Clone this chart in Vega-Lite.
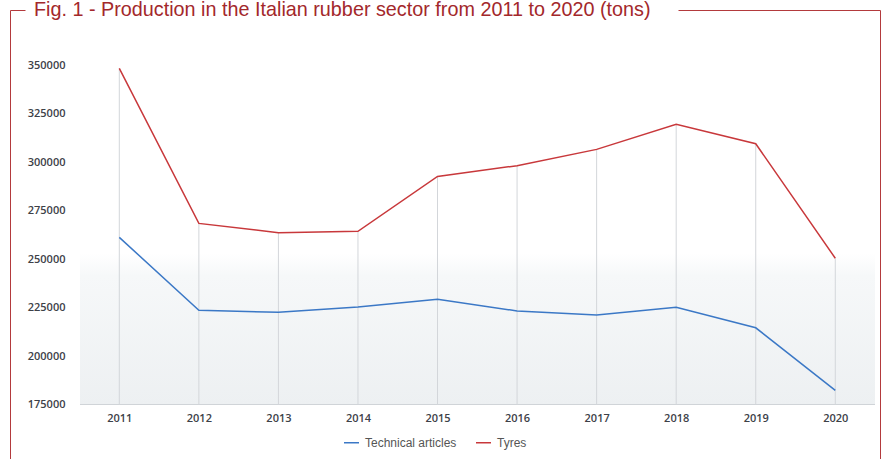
{
  "$schema": "https://vega.github.io/schema/vega-lite/v6.json",
  "width": 870,
  "height": 449,
  "autosize": {"type": "none"},
  "padding": {"left": 10, "top": 10, "right": 2, "bottom": 0},
  "background": "white",
  "title": {
    "text": "Fig. 1 - Production in the Italian rubber sector from 2011 to 2020 (tons)",
    "anchor": "start",
    "frame": "group",
    "orient": "top",
    "offset": 0,
    "baseline": "alphabetic",
    "dx": 24,
    "dy": 25.5,
    "font": "Liberation Sans",
    "fontSize": 19.8,
    "fontWeight": "normal",
    "color": "#a3282b"
  },
  "config": {
    "view": {"stroke": "#b33a3d", "strokeWidth": 1, "strokeDash": [15, 653, 651, 870, 449, 0]},
    "axis": {
      "labelFont": "Open Sans",
      "labelFontWeight": 600,
      "labelFontSize": 11,
      "labelColor": "#3d4148",
      "domain": false,
      "ticks": false,
      "tickSize": 0,
      "grid": false,
      "title": null
    }
  },
  "data": {
    "values": [
      {"year": 2011, "series": "Technical articles", "value": 261300},
      {"year": 2012, "series": "Technical articles", "value": 223600},
      {"year": 2013, "series": "Technical articles", "value": 222600},
      {"year": 2014, "series": "Technical articles", "value": 225300},
      {"year": 2015, "series": "Technical articles", "value": 229300},
      {"year": 2016, "series": "Technical articles", "value": 223300},
      {"year": 2017, "series": "Technical articles", "value": 221200},
      {"year": 2018, "series": "Technical articles", "value": 225200},
      {"year": 2019, "series": "Technical articles", "value": 214600},
      {"year": 2020, "series": "Technical articles", "value": 182300},
      {"year": 2011, "series": "Tyres", "value": 348500},
      {"year": 2012, "series": "Tyres", "value": 268500},
      {"year": 2013, "series": "Tyres", "value": 263700},
      {"year": 2014, "series": "Tyres", "value": 264400},
      {"year": 2015, "series": "Tyres", "value": 292700},
      {"year": 2016, "series": "Tyres", "value": 298300},
      {"year": 2017, "series": "Tyres", "value": 306700},
      {"year": 2018, "series": "Tyres", "value": 319600},
      {"year": 2019, "series": "Tyres", "value": 309600},
      {"year": 2020, "series": "Tyres", "value": 250500}
    ]
  },
  "layer": [
    {
      "data": {"values": [{}]},
      "mark": {
        "type": "rect",
        "fill": {
          "gradient": "linear",
          "x1": 0, "y1": 0, "x2": 0, "y2": 1,
          "stops": [
            {"offset": 0, "color": "#ffffff"},
            {"offset": 0.15, "color": "#f6f8f9"},
            {"offset": 1, "color": "#edf0f2"}
          ]
        }
      },
      "encoding": {
        "x": {"datum": 2010.506, "type": "quantitative",
          "scale": {"domain": [2009.626, 2020.562], "nice": false, "zero": false},
          "axis": {"orient": "bottom", "offset": -54.5, "values": [2011, 2012, 2013, 2014, 2015, 2016, 2017, 2018, 2019, 2020], "format": "d", "labelPadding": 8}},
        "x2": {"datum": 2020.499},
        "y": {"datum": 253000, "type": "quantitative",
          "scale": {"domain": [146870, 378650], "nice": false, "zero": false},
          "axis": {"orient": "left", "offset": -55, "values": [175000, 200000, 225000, 250000, 275000, 300000, 325000, 350000], "format": "d", "labelPadding": 0}},
        "y2": {"datum": 175000}
      }
    },
    {
      "data": {"values": [{}]},
      "mark": {"type": "rule", "color": "#d0d4d8", "strokeWidth": 1},
      "encoding": {
        "x": {"datum": 2010.506, "type": "quantitative"},
        "x2": {"datum": 2020.499},
        "y": {"datum": 175000, "type": "quantitative"}
      }
    },
    {
      "transform": [{"filter": "datum.series === 'Tyres'"}],
      "mark": {"type": "rule", "color": "#d3d6da", "strokeWidth": 1},
      "encoding": {
        "x": {"field": "year", "type": "quantitative"},
        "y": {"field": "value", "type": "quantitative"},
        "y2": {"datum": 175000}
      }
    },
    {
      "mark": {"type": "line", "strokeWidth": 1.5},
      "encoding": {
        "x": {"field": "year", "type": "quantitative"},
        "y": {"field": "value", "type": "quantitative"},
        "color": {
          "field": "series",
          "type": "nominal",
          "scale": {"domain": ["Technical articles", "Tyres"], "range": ["#3b78c6", "#c8383b"]},
          "legend": {
            "orient": "none",
            "legendX": 333,
            "legendY": 424,
            "direction": "horizontal",
            "title": null,
            "symbolType": "stroke",
            "symbolSize": 225,
            "symbolStrokeWidth": 1.5,
            "labelFont": "Liberation Sans",
            "labelFontSize": 12,
            "labelColor": "#555555",
            "columnPadding": 16,
            "labelOffset": 5
          }
        }
      }
    }
  ]
}
